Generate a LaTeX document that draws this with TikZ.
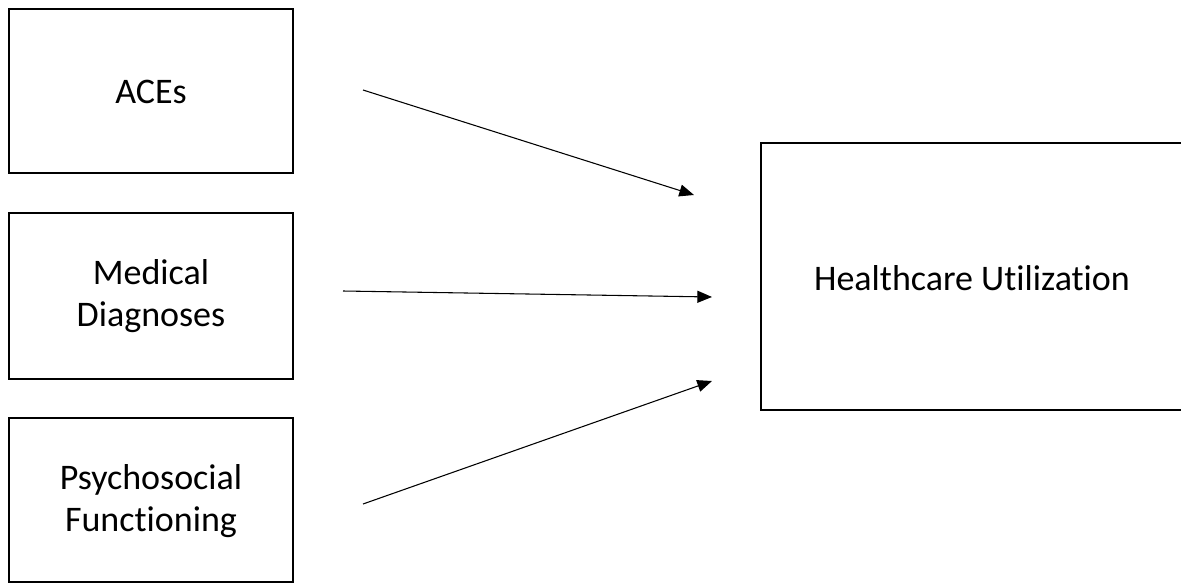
\documentclass[tikz,border=0pt]{standalone}
\usepackage{fontspec}
\setmainfont[Ligatures={NoCommon,NoRare}]{Carlito}
\usetikzlibrary{arrows.meta}
\begin{document}
\begin{tikzpicture}[x=0.75pt,y=-0.75pt,
  box/.style={draw=black,line width=2pt,inner sep=0pt},
  lbl/.style={font=\fontsize{27}{32}\selectfont,align=center,text=black},
  link/.style={line width=0.8pt,-{Triangle[length=11pt,width=9pt]}}]
\useasboundingbox (0,0) rectangle (1181,585);
\draw[box] (9,9) rectangle (293,173);
\draw[box] (9,213) rectangle (293,379);
\draw[box] (9,418) rectangle (293,582);
\draw[box] (761,143) rectangle (1190,410);
\node[lbl] (aces) at (151,92) {ACEs};
\node[lbl] (med) at (151,296) {Medical\\Diagnoses};
\node[lbl] (psy) at (151,501) {Psychosocial\\Functioning};
\node[lbl] (hcu) at (972,278) {Healthcare Utilization};
\coordinate (s1) at (363,90);
\coordinate (e1) at (694,195);
\coordinate (s2) at (343,291);
\coordinate (e2) at (712,297);
\coordinate (s3) at (363,504);
\coordinate (e3) at (712,381);
\draw[link] (s1) -- (e1);
\draw[link] (s2) -- (e2);
\draw[link] (s3) -- (e3);
\end{tikzpicture}
\end{document}
